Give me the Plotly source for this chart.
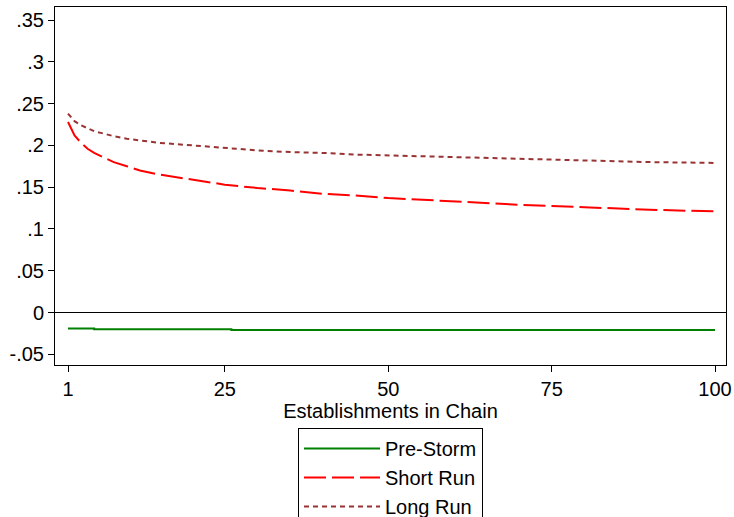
import plotly.graph_objects as go

# Data
chain_size = [1, 2, 3, 4, 5, 6, 7, 8, 10, 12, 15, 20, 25, 30, 35, 40, 45, 50, 60, 70, 80, 90, 100]
short_run = [0.228, 0.212, 0.203, 0.196, 0.191, 0.187, 0.183, 0.180, 0.175, 0.170, 0.165, 0.159,
             0.153, 0.149, 0.146, 0.142, 0.140, 0.137, 0.133, 0.129, 0.126, 0.123, 0.121]
long_run = [0.238, 0.229, 0.224, 0.220, 0.217, 0.215, 0.213, 0.211, 0.208, 0.206, 0.203, 0.200,
            0.197, 0.194, 0.192, 0.191, 0.189, 0.188, 0.186, 0.184, 0.182, 0.180, 0.179]
pre_storm_x = [1, 5, 26, 100]
pre_storm = [-0.019, -0.020, -0.021, -0.021]

x_ticks = [1, 25, 50, 75, 100]
y_ticks = [-0.05, 0, 0.05, 0.1, 0.15, 0.2, 0.25, 0.3, 0.35]
y_tick_labels = ["-.05", "0", ".05", ".1", ".15", ".2", ".25", ".3", ".35"]

FONT = "Liberation Sans, Arial, sans-serif"
FS = 20

fig = go.Figure()
fig.add_trace(go.Scatter(x=pre_storm_x, y=pre_storm, mode="lines", name="Pre-Storm",
                         line=dict(color="#008000", width=2, shape="hv")))
fig.add_trace(go.Scatter(x=chain_size, y=short_run, mode="lines", name="Short Run",
                         line=dict(color="#ff0000", width=2, dash="22px,6px")))
fig.add_trace(go.Scatter(x=chain_size, y=long_run, mode="lines", name="Long Run",
                         line=dict(color="#993333", width=2, dash="5px,4px")))

fig.update_layout(
    width=734, height=517,
    margin=dict(l=55, r=8, t=7, b=152, autoexpand=False),
    paper_bgcolor="white", plot_bgcolor="white",
    font=dict(family=FONT, size=FS, color="black"),
    showlegend=True,
    legend=dict(
        xref="paper", x=0.5, xanchor="center",
        yref="container", y=1 - 428 / 517, yanchor="top",
        bordercolor="black", borderwidth=1, bgcolor="white",
        font=dict(family=FONT, size=FS, color="black"),
        itemwidth=76, tracegroupgap=0,
        entrywidth=185, entrywidthmode="pixels",
    ),
    xaxis=dict(
        range=[-0.99, 101.68], tickvals=x_ticks, ticktext=[str(v) for v in x_ticks],
        ticks="outside", ticklen=6, tickcolor="black", showgrid=False, zeroline=False,
        showline=True, linecolor="black", linewidth=1, mirror=True, automargin=False,
        title=dict(text="Establishments in Chain", standoff=1, font=dict(size=FS)),
        tickfont=dict(size=FS),
    ),
    yaxis=dict(
        range=[-0.0628, 0.3656], tickvals=y_ticks, ticktext=y_tick_labels,
        ticks="outside", ticklen=6, tickcolor="black", showgrid=False,
        zeroline=True, zerolinecolor="black", zerolinewidth=1,
        showline=True, linecolor="black", linewidth=1, mirror=True, automargin=False,
        tickfont=dict(size=FS),
    ),
)

fig.write_html("out.html", config={"displayModeBar": False},
               post_script="document.body.style.margin='0';")
